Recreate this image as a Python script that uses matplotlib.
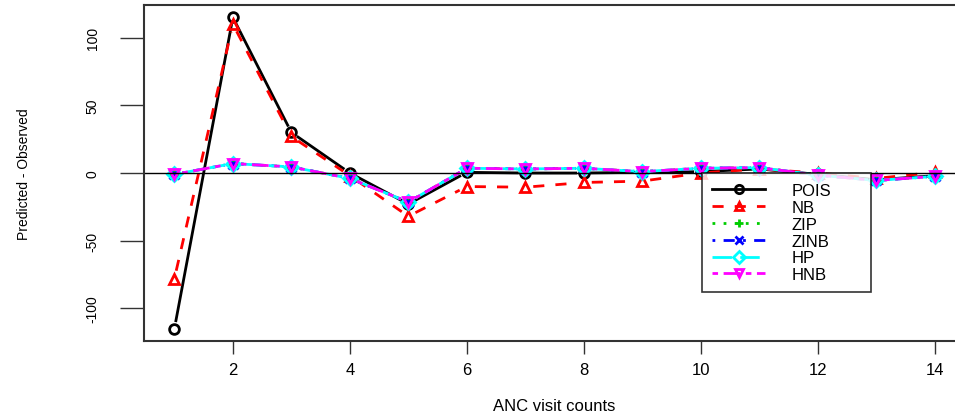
import numpy as np
import matplotlib
matplotlib.use("Agg")
from matplotlib import pyplot as plt
from matplotlib.lines import Line2D

# === DATA ===
visits = [1, 2, 3, 4, 5, 6, 7, 8, 9, 10, 11, 12, 13, 14]
pois = [-115, 115, 30, 0, -23, 0.5, 0, 0, 0.5, 1, 3, -1, -5, -2]
nb = [-78, 110, 27, -2, -32, -10, -10.5, -7, -6, 0, 3, 0, -4, 0.5]
zip_ = [-1, 7, 4.5, -4, -21.5, 3.5, 3, 3.5, 1, 3.5, 4, -1.5, -5.5, -2.5]
zinb = [-1, 7, 4.5, -4, -21.5, 3.5, 3, 3.5, 1, 3.5, 4, -1.5, -5.5, -2.5]
hp = [-1, 7, 4.5, -4, -21.5, 3.5, 3, 3.5, 1, 3.5, 4, -1.5, -5.5, -2.5]
hnb = [-1, 7, 4.5, -4, -21.5, 3.5, 3, 3.5, 1, 3.5, 4, -1.5, -5.5, -2.5]

labels = ["POIS", "NB", "ZIP", "ZINB", "HP", "HNB"]
colors = ["black", "red", "#00cd00", "blue", "cyan", "magenta"]
markers = ["o", "^", "+", "x", "D", "v"]
styles = ["-", (0, (4, 4)), (0, (1, 3)), (0, (1, 3, 4, 3)), (0, (7, 3)), (0, (2, 2, 6, 2))]

GAP_PX = 8  # R type="b": lines stop short of the points


def gapped(ax, x, y, gap):
    # shorten every segment in display space, separate them with NaN
    pts = ax.transData.transform(np.column_stack([x, y]))
    out = []
    for p0, p1 in zip(pts[:-1], pts[1:]):
        d = p1 - p0
        L = np.hypot(*d)
        if L > 2 * gap:
            u = d / L
            out += [p0 + u * gap, p1 - u * gap, [np.nan, np.nan]]
    out = np.array(out)
    ok = ~np.isnan(out[:, 0])
    res = np.full_like(out, np.nan)
    res[ok] = ax.transData.inverted().transform(out[ok])
    return res[:, 0], res[:, 1]


plt.rcParams["font.family"] = ["Liberation Sans", "DejaVu Sans"]

fig = plt.figure(figsize=(9.55, 4.14), dpi=100)
ax = fig.add_axes([0.1508, 0.1739, 0.8597, 0.8116])
ax.set_xlim(0.48, 14.52)
ax.set_ylim(-124.2, 124.2)

series = [pois, nb, zip_, zinb, hp, hnb]
handles = []
for vals, lab, c, m, ls in zip(series, labels, colors, markers, styles):
    gx, gy = gapped(ax, visits, vals, GAP_PX)
    ax.plot(gx, gy, color=c, linestyle=ls, linewidth=2)
    ax.plot(visits, vals, linestyle="none", marker=m, markersize=7,
            markerfacecolor="none", markeredgecolor=c, markeredgewidth=2)
    handles.append(Line2D([], [], color=c, linestyle=ls, linewidth=2, marker=m,
                          markersize=6, markerfacecolor="none",
                          markeredgecolor=c, markeredgewidth=2, label=lab))

ax.axhline(0, color="black", linewidth=1)

ax.set_xticks([2, 4, 6, 8, 10, 12, 14])
ax.set_yticks([-100, -50, 0, 50, 100])
ax.set_yticklabels(["-100", "-50", "0", "50", "100"], rotation=90, va="center")
ax.tick_params(axis="x", labelsize=12, length=9, width=1, color="#333333", pad=6)
ax.tick_params(axis="y", labelsize=10, length=17, width=1, color="#333333", pad=15)
for s in ax.spines.values():
    s.set_linewidth(1.5)
    s.set_color("#333333")

ax.set_xlabel("ANC visit counts", fontsize=12, labelpad=15)
ax.set_ylabel("Predicted - Observed", fontsize=10, labelpad=39)

leg = ax.legend(handles=handles, loc="upper left",
                bbox_to_anchor=(0.6797, 0.5, 0.2058, 0.0), mode="expand",
                fontsize=12, frameon=True, fancybox=False, edgecolor="black",
                handlelength=3.2, borderpad=0.6, labelspacing=0.11,
                handletextpad=1.55, borderaxespad=0)
leg.get_frame().set_linewidth(1.2)

plt.savefig("out.png", dpi=100)
